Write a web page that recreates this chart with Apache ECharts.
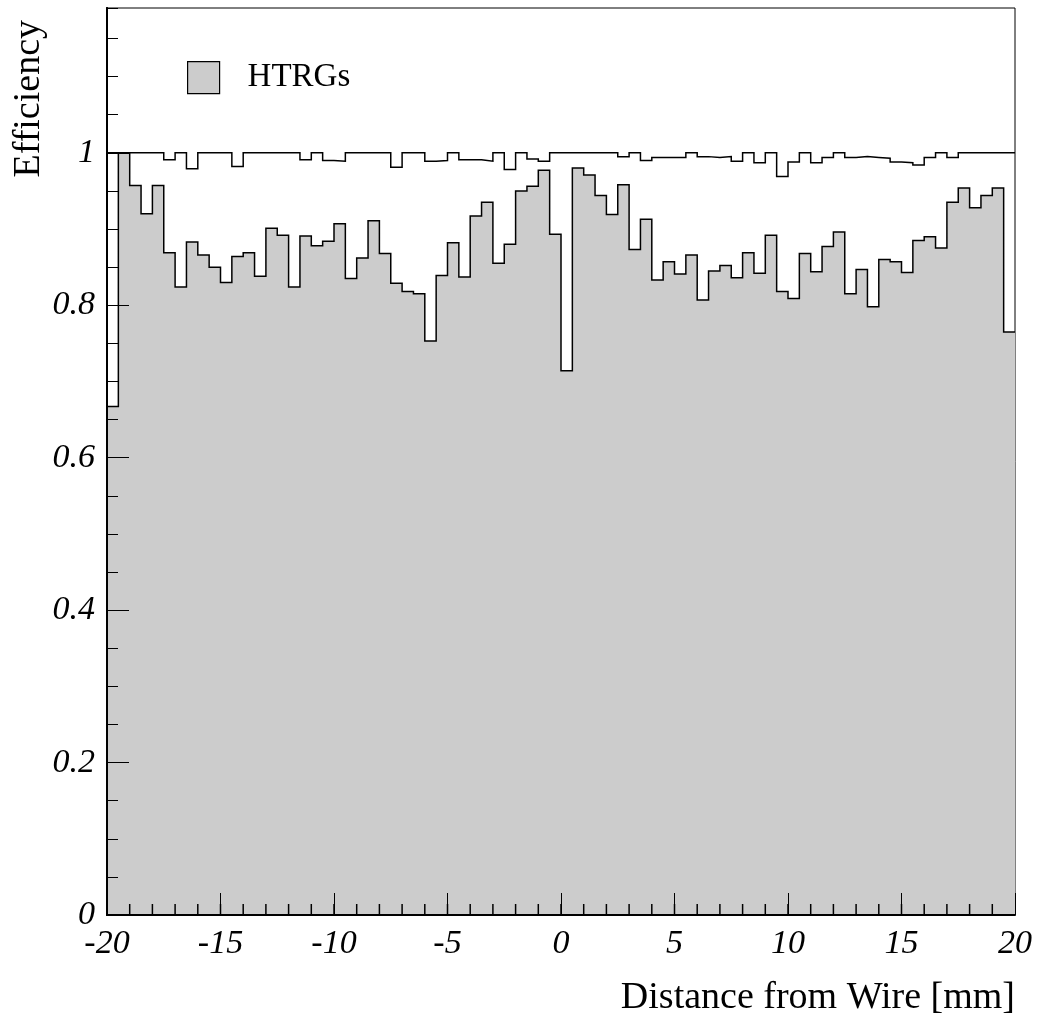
<!DOCTYPE html>
<html>
<head>
<meta charset="utf-8">
<script src="https://cdn.jsdelivr.net/npm/echarts@6/dist/echarts.min.js"></script>
<style>
  html, body { margin: 0; padding: 0; background: #fff; }
  #chart { width: 1039px; height: 1018px; }
</style>
</head>
<body>
<div id="chart"></div>
<script>
// histogram binning (mm)
var binStart = -20;
var binWidth = 0.5;

// HTRGs efficiency per bin (filled)
var htrgValues = [
  0.667, 1.000, 0.957, 0.920, 0.957, 0.869, 0.824, 0.883, 0.866, 0.850,
  0.830, 0.864, 0.869, 0.838, 0.901, 0.892, 0.824, 0.891, 0.878, 0.884,
  0.907, 0.835, 0.862, 0.911, 0.868, 0.829, 0.818, 0.815, 0.753, 0.839,
  0.882, 0.837, 0.917, 0.935, 0.855, 0.880, 0.950, 0.956, 0.977, 0.893,
  0.714, 0.980, 0.971, 0.944, 0.919, 0.958, 0.873, 0.913, 0.833, 0.857,
  0.841, 0.866, 0.807, 0.845, 0.852, 0.836, 0.869, 0.842, 0.892, 0.818,
  0.809, 0.868, 0.844, 0.877, 0.896, 0.815, 0.847, 0.798, 0.860, 0.857,
  0.843, 0.885, 0.890, 0.875, 0.935, 0.954, 0.928, 0.944, 0.954, 0.765
];

// reference efficiency per bin (outline only)
var allValues = [
  1, 1, 1, 1, 1, 0.991, 1, 0.979, 1, 1,
  1, 0.982, 1, 1, 1, 1, 1, 0.991, 1, 0.990,
  0.989, 1, 1, 1, 1, 0.981, 1, 1, 0.989, 0.990,
  1, 0.991, 0.991, 0.989, 1, 0.978, 1, 0.992, 0.989, 1,
  1, 1, 1, 1, 1, 0.995, 1, 0.990, 0.994, 0.994,
  0.994, 1, 0.995, 0.994, 0.995, 0.989, 1, 0.987, 1, 0.969,
  0.988, 1, 0.987, 0.994, 1, 0.994, 0.995, 0.994, 0.993, 0.988,
  0.987, 0.984, 0.994, 1, 0.994, 1, 1, 1, 1, 1
];

var yMajorTicks = [0, 0.2, 0.4, 0.6, 0.8, 1];

// small x ticks, one per mm
var xMinorTicks = [];
for (var m = -19; m < 20; m++) xMinorTicks.push(m);

// turn bin contents into step points (lower edges + closing edge)
function toSteps(vals) {
  var pts = [];
  for (var i = 0; i < vals.length; i++) {
    pts.push([binStart + i * binWidth, vals[i]]);
  }
  pts.push([binStart + vals.length * binWidth, vals[vals.length - 1]]);
  return pts;
}

var serif = 'Liberation Serif';
var italicRich = { it: { fontFamily: serif, fontStyle: 'italic', fontSize: 34, color: '#000' } };
var axisLineStyle = { onZero: false, lineStyle: { color: '#000', width: 2 } };
var chart = echarts.init(document.getElementById('chart'));

var option = {
  animation: false,
  backgroundColor: '#fff',
  grid: {
    left: 107, right: 24, top: 8, bottom: 103,
    show: true, borderColor: '#000', borderWidth: 1, backgroundColor: '#fff'
  },
  legend: {
    left: 187, top: 61, padding: 0,
    itemWidth: 32, itemHeight: 32,
    textStyle: { fontFamily: serif, fontSize: 33, color: '#000', padding: [0, 0, 0, 23] },
    data: [{ name: 'HTRGs', icon: 'rect',
      itemStyle: { color: '#cccccc', borderColor: '#000', borderWidth: 1.2 } }]
  },
  xAxis: {
    type: 'value', min: -20, max: 20, interval: 5, z: 10,
    axisLine: axisLineStyle,
    axisTick: { inside: true, length: 22, lineStyle: { color: '#000', width: 1 } },
    splitLine: { show: false },
    axisLabel: {
      margin: 12, fontFamily: serif, fontStyle: 'italic', fontSize: 34, color: '#000',
      formatter: function (v) { return '{it|' + v + '}'; },
      rich: italicRich
    }
  },
  yAxis: [
    {
      // minor ticks every 0.05
      type: 'value', min: 0, max: 1.19, interval: 0.05, position: 'left', z: 10,
      axisLine: axisLineStyle,
      axisTick: { inside: true, length: 11, lineStyle: { color: '#000', width: 1 } },
      splitLine: { show: false },
      axisLabel: { show: false }
    },
    {
      type: 'value', min: 0, max: 1.19, interval: 0.2, position: 'left', z: 10,
      axisLine: axisLineStyle,
      axisTick: { inside: true, length: 22, lineStyle: { color: '#000', width: 1 } },
      splitLine: { show: false },
      axisLabel: {
        margin: 12, fontFamily: serif, fontStyle: 'italic', fontSize: 34, color: '#000',
        showMaxLabel: false,
        formatter: function (v) {
          return yMajorTicks.indexOf(Math.round(v * 100) / 100) >= 0 ? '{it|' + v + '}' : '';
        },
        rich: italicRich
      }
    }
  ],
  series: [
    {
      name: 'HTRGs', type: 'line', step: 'end', symbol: 'none',
      data: toSteps(htrgValues),
      itemStyle: { color: '#cccccc' },
      lineStyle: { color: '#000', width: 1.5, join: 'miter' },
      areaStyle: { color: '#cccccc', opacity: 1 },
      z: 2
    },
    {
      name: 'All', type: 'line', step: 'end', symbol: 'none',
      data: toSteps(allValues),
      lineStyle: { color: '#000', width: 1.5, join: 'miter' },
      z: 3
    },
    {
      // 1 mm ticks on the x axis, drawn as thin rects standing on y = 0
      name: 'xticks', type: 'scatter', silent: true, z: 5,
      data: xMinorTicks.map(function (v) { return [v, 0]; }),
      symbol: 'rect', symbolSize: [1.5, 11], symbolOffset: [0, -5.5],
      itemStyle: { color: '#000', opacity: 1 }
    }
  ],
  graphic: [
    {
      type: 'text', x: 10, y: 20, rotation: Math.PI / 2,
      style: { text: 'Efficiency', fontFamily: serif, fontSize: 38, fill: '#000',
        align: 'right', verticalAlign: 'top' }
    },
    {
      type: 'text', x: 1015, y: 998,
      style: { text: 'Distance from Wire [mm]', fontFamily: serif, fontSize: 38, fill: '#000',
        align: 'right', verticalAlign: 'middle' }
    }
  ]
};

chart.setOption(option);
</script>
</body>
</html>
